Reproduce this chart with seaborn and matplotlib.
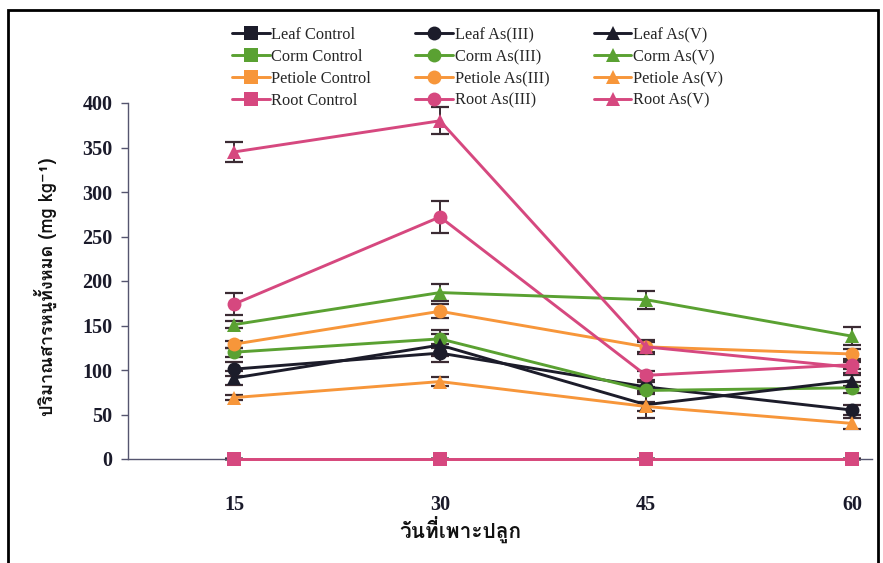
import matplotlib
matplotlib.use("Agg")
import matplotlib.pyplot as plt
from matplotlib import font_manager, ft2font
from matplotlib.patches import Rectangle
import numpy as np
import pandas as pd
import seaborn as sns

# Sampling days after planting
days = [15, 30, 45, 60]

# Total arsenic (mg kg-1) per plant part and treatment
leaf_control = [0, 0, 0, 0]
corm_control = [0, 0, 0, 0]
petiole_control = [0, 0, 0, 0]
root_control = [0, 0, 0, 0]

leaf_as3 = [101, 119, 81, 55]
corm_as3 = [120, 135, 77, 80]
petiole_as3 = [129, 166, 126, 118]
root_as3 = [174, 272, 94, 106]

leaf_as5 = [91, 128, 61, 88]
corm_as5 = [151, 187, 179, 138]
petiole_as5 = [69, 87, 59, 40]
root_as5 = [345, 380, 126, 103]

# Standard errors
zero_err = [0, 0, 0, 0]
leaf_as3_err = [8, 10, 6, 6]
corm_as3_err = [5, 10, 4, 6]
petiole_as3_err = [4, 8, 6, 6]
root_as3_err = [12, 18, 5, 5]
leaf_as5_err = [8, 12, 15, 6]
corm_as5_err = [4, 10, 10, 10]
petiole_as5_err = [3, 5, 5, 6]
root_as5_err = [11, 15, 8, 6]

y_ticks = [0, 50, 100, 150, 200, 250, 300, 350, 400]
x_label = "วันที่เพาะปลูก"
y_label = "ปริมาณสารหนูทั้งหมด (mg kg⁻¹)"

series = [
    ("Leaf Control", leaf_control, zero_err, "Leaf", "s"),
    ("Corm Control", corm_control, zero_err, "Corm", "s"),
    ("Petiole Control", petiole_control, zero_err, "Petiole", "s"),
    ("Root Control", root_control, zero_err, "Root", "s"),
    ("Leaf As(III)", leaf_as3, leaf_as3_err, "Leaf", "o"),
    ("Corm As(III)", corm_as3, corm_as3_err, "Corm", "o"),
    ("Petiole As(III)", petiole_as3, petiole_as3_err, "Petiole", "o"),
    ("Root As(III)", root_as3, root_as3_err, "Root", "o"),
    ("Leaf As(V)", leaf_as5, leaf_as5_err, "Leaf", "^"),
    ("Corm As(V)", corm_as5, corm_as5_err, "Corm", "^"),
    ("Petiole As(V)", petiole_as5, petiole_as5_err, "Petiole", "^"),
    ("Root As(V)", root_as5, root_as5_err, "Root", "^"),
]
part_colors = {"Leaf": "#1c1c2a", "Corm": "#5aa132", "Petiole": "#f7963a", "Root": "#d6487f"}

rows = []
for name, vals, errs, part, mk in series:
    for d, v, e in zip(days, vals, errs):
        rows.append({"day": d, "value": v, "err": e, "series": name})
df = pd.DataFrame(rows)


def find_thai_font():
    fallback = None
    for f in font_manager.fontManager.ttflist:
        try:
            cmap = ft2font.FT2Font(f.fname).get_charmap()
        except Exception:
            continue
        if 0x0E01 in cmap and 0x0E49 in cmap:
            if f.weight in ("bold", 700) or (isinstance(f.weight, int) and f.weight >= 600):
                return f.name
            fallback = fallback or f.name
    return fallback


sns.set_theme(style="white")
thai = find_thai_font()
plt.rcParams["font.family"] = ["Liberation Serif", "DejaVu Serif"]

fig = plt.figure(figsize=(8.83, 5.63), dpi=100)
W, H = 883, 563
ax = fig.add_axes([128 / W, (H - 459) / H, (872 - 128) / W, (459 - 103) / H])

order = [s[0] for s in series]
palette = {s[0]: part_colors[s[3]] for s in series}
markers = {s[0]: s[4] for s in series}

# draw treatments first, controls last so the control squares sit on top
draw_order = order[4:] + order[:4]
for name in draw_order:
    sub = df[df["series"] == name]
    ax.errorbar(sub["day"], sub["value"], yerr=sub["err"], fmt="none",
                ecolor="#3b2b33", elinewidth=1.4, capsize=6.5, capthick=1.6,
                zorder=2, clip_on=False)
    sns.lineplot(data=sub, x="day", y="value", color=palette[name], marker=markers[name],
                 markersize=10, markeredgewidth=0, linewidth=2.1, ax=ax, label=name,
                 legend=False, zorder=3, clip_on=False)

ax.set_xlim(7.28, 61.46)
ax.set_ylim(0, 400)
ax.set_xticks(days)
ax.set_yticks(y_ticks)
ax.set_xticklabels([str(d) for d in days], fontsize=14.5, fontweight="bold", color="#1a1a2a")
ax.set_yticklabels([str(v) for v in y_ticks], fontsize=14.5, fontweight="bold", color="#1a1a2a")
ax.tick_params(axis="x", length=0, pad=26)
ax.tick_params(axis="y", length=5, width=1.0, color="#55556f", direction="out", pad=6, left=True)

for side in ("top", "right"):
    ax.spines[side].set_visible(False)
for side in ("left", "bottom"):
    ax.spines[side].set_color("#55556f")
    ax.spines[side].set_linewidth(1.0)

thai_fam = [thai, "DejaVu Sans"] if thai else ["DejaVu Sans"]
ax.set_xlabel(x_label, family=thai_fam, fontsize=15, fontweight="bold", color="#111111")
ax.set_ylabel(y_label, family=thai_fam, fontsize=13, fontweight="bold", color="#111111")
ax.xaxis.set_label_coords((460 - 128) / 744, (459 - 530) / 356)
ax.xaxis.label.set_va("center")
ax.yaxis.set_label_coords((45 - 128) / 744, (459 - 287) / 356)
ax.yaxis.label.set_va("center")

handles, labels = ax.get_legend_handles_labels()
hmap = dict(zip(labels, handles))
leg = fig.legend([hmap[n] for n in order], order, loc="upper left",
                 bbox_to_anchor=(232 / W, 1 - 27 / H), ncol=3, frameon=False,
                 prop={"family": "Liberation Serif", "size": 11.8},
                 handlelength=2.3, handletextpad=0.1, columnspacing=2.7,
                 labelspacing=0.36, borderpad=0, borderaxespad=0)

# outer frame around the figure
fig.add_artist(Rectangle((8 / W, -0.02), (878 - 8) / W, (H - 10) / H + 0.02,
                         transform=fig.transFigure, fill=False, edgecolor="black",
                         linewidth=2.0, clip_on=False))

fig.savefig("out.png", dpi=100)
